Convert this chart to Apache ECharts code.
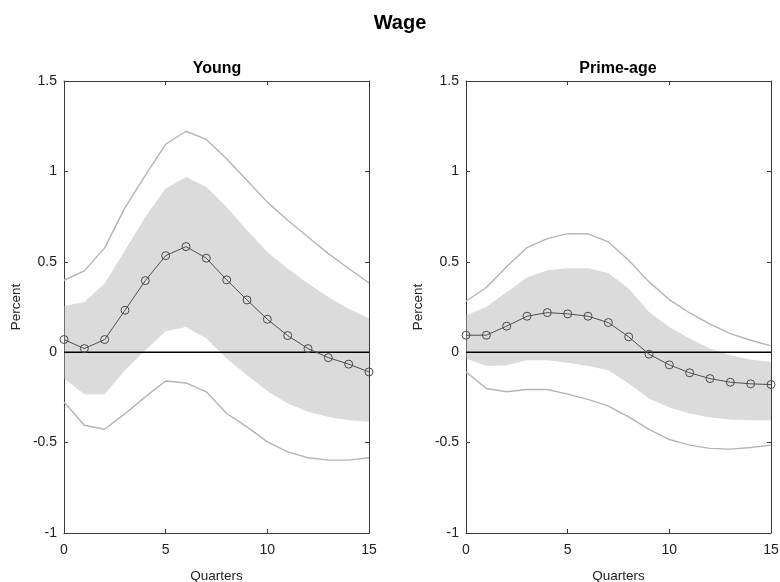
<!DOCTYPE html>
<html>
<head>
<meta charset="utf-8">
<script src="https://cdn.jsdelivr.net/npm/echarts@6/dist/echarts.min.js"></script>
<style>
  html, body { margin: 0; padding: 0; background: #fff; }
  #chart { width: 780px; height: 582px; }
</style>
</head>
<body>
<div id="chart"></div>
<script>
// Impulse responses of wages, by age group (quarters 0..15)
const quarters = [0, 1, 2, 3, 4, 5, 6, 7, 8, 9, 10, 11, 12, 13, 14, 15];
const xTicks = [0, 5, 10, 15];
const yTicks = [-1, -0.5, 0, 0.5, 1, 1.5];

// Young
const youngMedian = [0.07, 0.02, 0.07, 0.232, 0.396, 0.534, 0.584, 0.52, 0.40, 0.289, 0.182, 0.092, 0.02, -0.03, -0.066, -0.109];
const youngInnerHi = [0.256, 0.278, 0.38, 0.564, 0.748, 0.905, 0.969, 0.914, 0.803, 0.674, 0.554, 0.463, 0.38, 0.306, 0.24, 0.186];
const youngInnerLo = [-0.146, -0.232, -0.232, -0.10, 0.011, 0.116, 0.14, 0.076, -0.035, -0.127, -0.214, -0.284, -0.33, -0.358, -0.376, -0.385];
const youngOuterHi = [0.398, 0.45, 0.577, 0.80, 0.978, 1.15, 1.222, 1.177, 1.07, 0.95, 0.83, 0.73, 0.637, 0.545, 0.463, 0.383];
const youngOuterLo = [-0.275, -0.404, -0.426, -0.34, -0.247, -0.159, -0.17, -0.219, -0.339, -0.413, -0.496, -0.551, -0.584, -0.597, -0.597, -0.584];

// Prime-age
const primeMedian = [0.094, 0.094, 0.144, 0.199, 0.219, 0.212, 0.199, 0.164, 0.085, -0.011, -0.07, -0.114, -0.146, -0.166, -0.175, -0.179];
const primeInnerHi = [0.205, 0.25, 0.333, 0.413, 0.453, 0.464, 0.464, 0.438, 0.352, 0.223, 0.14, 0.076, 0.02, -0.017, -0.04, -0.054];
const primeInnerLo = [-0.035, -0.077, -0.072, -0.044, -0.044, -0.059, -0.077, -0.10, -0.173, -0.256, -0.306, -0.339, -0.361, -0.372, -0.376, -0.376];
const primeOuterHi = [0.282, 0.358, 0.472, 0.579, 0.628, 0.656, 0.654, 0.61, 0.509, 0.389, 0.291, 0.217, 0.155, 0.103, 0.066, 0.035];
const primeOuterLo = [-0.109, -0.201, -0.219, -0.206, -0.206, -0.232, -0.261, -0.298, -0.358, -0.427, -0.483, -0.514, -0.532, -0.536, -0.527, -0.514];

const FONT = 'Liberation Sans, Arial, sans-serif';
const AXIS_COLOR = '#3a3a3a';

const pts = (ys) => quarters.map((q, i) => [q, ys[i]]);

function panelAxes(gridIndex) {
  const tickStyle = { show: true, inside: true, length: 4, lineStyle: { color: AXIS_COLOR, width: 1 } };
  const lineStyle = { show: true, onZero: false, lineStyle: { color: AXIS_COLOR, width: 1 } };
  const xBase = { type: 'value', gridIndex, min: 0, max: 15, interval: 5, splitLine: { show: false } };
  const yBase = { type: 'value', gridIndex, min: -1, max: 1.5, interval: 0.5, splitLine: { show: false } };
  return {
    x: [
      Object.assign({}, xBase, {
        position: 'bottom', axisLine: lineStyle, axisTick: tickStyle,
        axisLabel: { color: '#222', fontFamily: FONT, fontSize: 14, margin: 10,
          formatter: v => (xTicks.includes(v) ? String(v) : '') },
        name: 'Quarters', nameLocation: 'middle', nameGap: 36,
        nameTextStyle: { color: '#222', fontFamily: FONT, fontSize: 13.5 }
      }),
      Object.assign({}, xBase, { position: 'top', axisLine: lineStyle, axisTick: tickStyle, axisLabel: { show: false } })
    ],
    y: [
      Object.assign({}, yBase, {
        position: 'left', axisLine: lineStyle, axisTick: tickStyle,
        axisLabel: { color: '#222', fontFamily: FONT, fontSize: 14, margin: 7,
          formatter: v => (yTicks.includes(v) ? String(v) : '') },
        name: 'Percent', nameLocation: 'middle', nameGap: 41,
        nameTextStyle: { color: '#222', fontFamily: FONT, fontSize: 13.5 }
      }),
      Object.assign({}, yBase, { position: 'right', axisLine: lineStyle, axisTick: tickStyle, axisLabel: { show: false } })
    ]
  };
}

// Shaded band between the inner bounds, drawn as one polygon through the axis scales
function bandSeries(axisIdx, hi, lo) {
  const rows = quarters.map((q, i) => [q, lo[i], hi[i]]);
  return {
    type: 'custom', xAxisIndex: axisIdx, yAxisIndex: axisIdx, silent: true, animation: false,
    data: rows,
    encode: { x: 0, y: [1, 2] },
    renderItem: function (params, api) {
      if (params.dataIndex !== 0) return null;
      const upper = rows.map(r => api.coord([r[0], r[2]]));
      const lower = rows.map(r => api.coord([r[0], r[1]])).reverse();
      return {
        type: 'polygon',
        shape: { points: upper.concat(lower) },
        style: { fill: 'rgb(178,178,178)', opacity: 0.47, stroke: null }
      };
    }
  };
}

function panelSeries(axisIdx, median, innerHi, innerLo, outerHi, outerLo) {
  const base = { type: 'line', xAxisIndex: axisIdx, yAxisIndex: axisIdx, showSymbol: false, animation: false, silent: true };
  return [
    // zero reference line (drawn first so the band tints it)
    Object.assign({}, base, { data: [[0, 0], [15, 0]], lineStyle: { color: '#000', width: 1.4 } }),
    Object.assign({}, base, { data: pts(outerHi), lineStyle: { color: '#b4b4b4', width: 1.4 } }),
    Object.assign({}, base, { data: pts(outerLo), lineStyle: { color: '#b4b4b4', width: 1.4 } }),
    bandSeries(axisIdx, innerHi, innerLo),
    Object.assign({}, base, {
      data: pts(median), showSymbol: true, symbol: 'circle', symbolSize: 8,
      lineStyle: { color: '#505050', width: 1 },
      itemStyle: { color: 'rgba(0,0,0,0)', borderColor: '#4a4a4a', borderWidth: 1 }
    })
  ];
}

const left = panelAxes(0);
const right = panelAxes(1);

const option = {
  backgroundColor: '#fff',
  animation: false,
  title: [
    { text: 'Wage', left: 400, top: 13, textAlign: 'center', padding: 0,
      textStyle: { fontFamily: FONT, fontSize: 20, fontWeight: 'bold', color: '#000' } },
    { text: 'Young', left: 217, top: 61, textAlign: 'center', padding: 0,
      textStyle: { fontFamily: FONT, fontSize: 16, fontWeight: 'bold', color: '#000' } },
    { text: 'Prime-age', left: 618, top: 61, textAlign: 'center', padding: 0,
      textStyle: { fontFamily: FONT, fontSize: 16, fontWeight: 'bold', color: '#000' } }
  ],
  grid: [
    { left: 64, top: 81, width: 305, height: 452, containLabel: false, outerBoundsMode: 'none' },
    { left: 466, top: 81, width: 305, height: 452, containLabel: false, outerBoundsMode: 'none' }
  ],
  // indices 0/2 carry labels; 1/3 only close the box on top and right
  xAxis: [left.x[0], left.x[1], right.x[0], right.x[1]],
  yAxis: [left.y[0], left.y[1], right.y[0], right.y[1]],
  series: panelSeries(0, youngMedian, youngInnerHi, youngInnerLo, youngOuterHi, youngOuterLo)
    .concat(panelSeries(2, primeMedian, primeInnerHi, primeInnerLo, primeOuterHi, primeOuterLo))
};

const chart = echarts.init(document.getElementById('chart'), null, { renderer: 'canvas' });
chart.setOption(option);
</script>
</body>
</html>
